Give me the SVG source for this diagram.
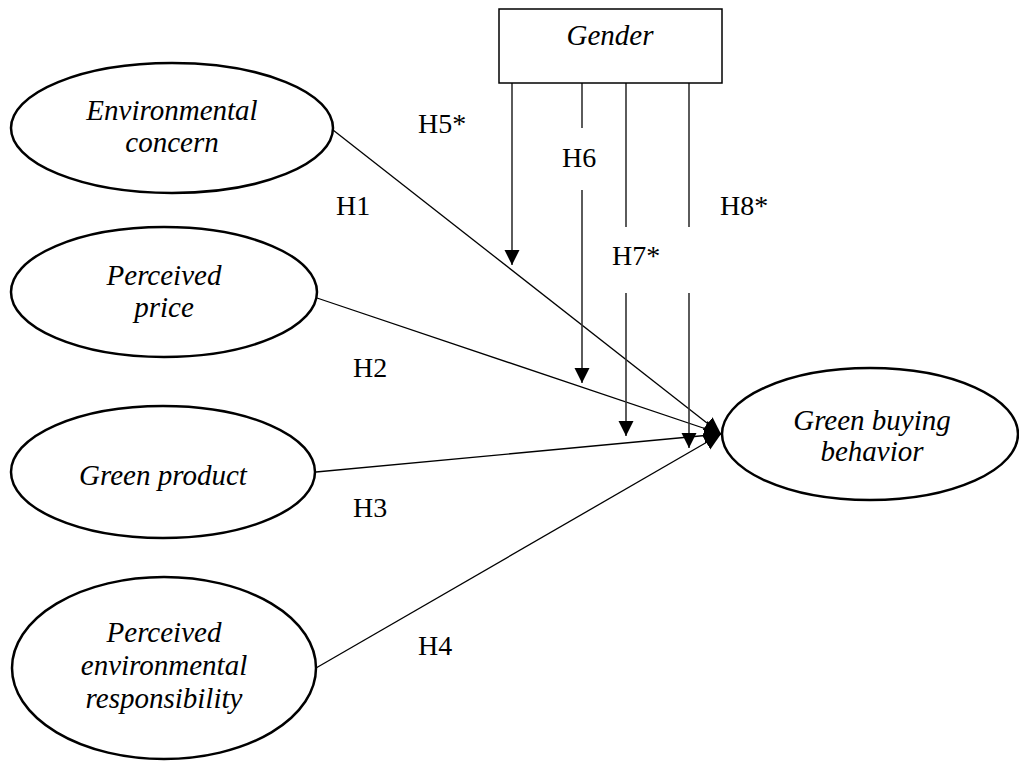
<svg xmlns="http://www.w3.org/2000/svg" width="1019" height="763" viewBox="0 0 1019 763">
<style>
.node ellipse{fill:#fff;stroke:#000;stroke-width:2.5}
.box{fill:#fff;stroke:#000;stroke-width:1.5}
.t{font-family:"Liberation Serif","Times New Roman",serif;font-size:29px;font-style:italic;fill:#000;text-anchor:middle}
.lbl{font-family:"Liberation Serif","Times New Roman",serif;font-size:28px;fill:#000}
.path{stroke:#000;stroke-width:1.3;fill:none}
.mod{stroke:#333;stroke-width:1.6;fill:none}
</style>
<defs>
<marker id="ah" markerUnits="userSpaceOnUse" markerWidth="18" markerHeight="18" viewBox="0 0 18 18" refX="17" refY="9" orient="auto">
<path d="M0,1 L17,9 L0,17 Z" fill="#000"/>
</marker>
<marker id="av" markerUnits="userSpaceOnUse" markerWidth="16" markerHeight="16" viewBox="0 0 16 16" refX="15" refY="8" orient="auto">
<path d="M0,0.5 L15,8 L0,15.5 Z" fill="#000"/>
</marker>
</defs>
<g id="connectors">
<line class="path" x1="333" y1="130" x2="721" y2="434" marker-end="url(#ah)"/>
<line class="path" x1="317" y1="298" x2="721" y2="434" marker-end="url(#ah)"/>
<line class="path" x1="316" y1="472" x2="721" y2="434" marker-end="url(#ah)"/>
<line class="path" x1="316" y1="668" x2="721" y2="434" marker-end="url(#ah)"/>
<line class="mod" x1="512" y1="83" x2="512" y2="265" marker-end="url(#av)"/>
<line class="mod" x1="582" y1="83" x2="582" y2="128"/>
<line class="mod" x1="582" y1="190" x2="582" y2="383" marker-end="url(#av)"/>
<line class="mod" x1="626" y1="83" x2="626" y2="227"/>
<line class="mod" x1="626" y1="293" x2="626" y2="436" marker-end="url(#av)"/>
<line class="mod" x1="689" y1="83" x2="689" y2="227"/>
<line class="mod" x1="689" y1="293" x2="689" y2="448" marker-end="url(#av)"/>
</g>
<g id="labels">
<text class="lbl" x="418" y="133">H5*</text>
<text class="lbl" x="336" y="215">H1</text>
<text class="lbl" x="562" y="167">H6</text>
<text class="lbl" x="720" y="215">H8*</text>
<text class="lbl" x="612" y="265">H7*</text>
<text class="lbl" x="353" y="377">H2</text>
<text class="lbl" x="353" y="517">H3</text>
<text class="lbl" x="418" y="655">H4</text>
</g>
<g id="gender">
<rect class="box" x="499" y="9" width="223" height="74"/>
<text class="t" x="610" y="45">Gender</text>
</g>
<g id="environmental-concern" class="node">
<ellipse cx="172" cy="128" rx="161" ry="65"/>
<text class="t" x="172" y="120">Environmental</text>
<text class="t" x="172" y="152">concern</text>
</g>
<g id="perceived-price" class="node">
<ellipse cx="164" cy="292" rx="153" ry="65"/>
<text class="t" x="164" y="285">Perceived</text>
<text class="t" x="164" y="317">price</text>
</g>
<g id="green-product" class="node">
<ellipse cx="163" cy="472" rx="152" ry="66"/>
<text class="t" x="163" y="485">Green product</text>
</g>
<g id="perceived-environmental-responsibility" class="node">
<ellipse cx="164" cy="668" rx="152" ry="91"/>
<text class="t" x="164" y="642">Perceived</text>
<text class="t" x="164" y="675">environmental</text>
<text class="t" x="164" y="708">responsibility</text>
</g>
<g id="green-buying-behavior" class="node">
<ellipse cx="870" cy="434" rx="148" ry="66"/>
<text class="t" x="872" y="430">Green buying</text>
<text class="t" x="872" y="461">behavior</text>
</g>
</svg>
